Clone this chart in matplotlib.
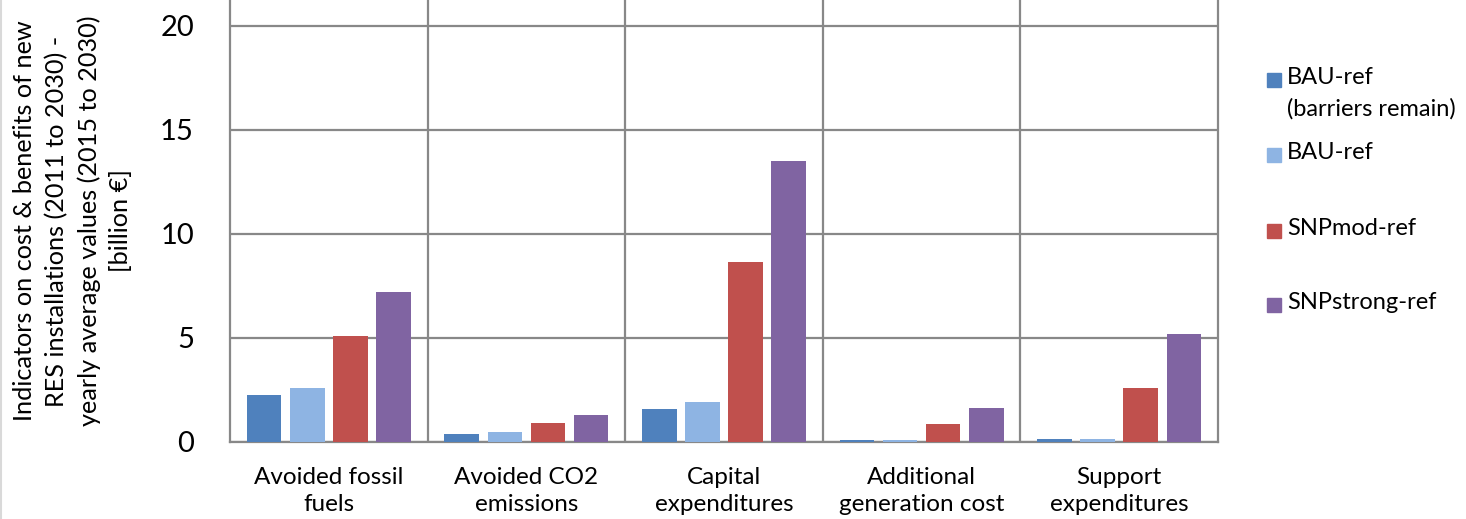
import numpy as np
import matplotlib
matplotlib.use("Agg")
import matplotlib.pyplot as plt
from matplotlib.patches import Rectangle
from matplotlib.lines import Line2D

plt.rcParams['font.family'] = ['Lato', 'DejaVu Sans']

# Indicators per scenario, billion EUR
categories = ["Avoided fossil\nfuels", "Avoided CO2\nemissions", "Capital\nexpenditures",
              "Additional\ngeneration cost", "Support\nexpenditures"]
series_names = ["BAU-ref\n(barriers remain)", "BAU-ref", "SNPmod-ref", "SNPstrong-ref"]
bau_barriers = [2.28, 0.40, 1.58, 0.09, 0.14]
bau_ref = [2.61, 0.46, 1.92, 0.09, 0.13]
snp_mod = [5.10, 0.90, 8.65, 0.86, 2.60]
snp_strong = [7.20, 1.30, 13.50, 1.63, 5.20]
series_values = [bau_barriers, bau_ref, snp_mod, snp_strong]
colors = ["#4F81BD", "#8EB4E3", "#C0504D", "#8064A2"]

grid_col = "#888888"

fig = plt.figure(figsize=(14.66, 5.19), dpi=100)
ax = fig.add_axes([230/1466, 1 - 442/519, 988/1466, 442/519])

x = np.arange(len(categories))
width = 0.175
step = 0.218
for i, (vals, col) in enumerate(zip(series_values, colors)):
    offs = (i - 1.5) * step
    ax.bar(x + offs, vals, width, color=col, linewidth=0, zorder=3)

ax.set_xlim(-0.5, len(categories) - 0.5)
ax.set_ylim(0, 21.25)
ax.set_yticks([0, 5, 10, 15, 20])
ax.tick_params(axis='y', length=0, labelsize=21, pad=26)
ax.set_xticks(x)
ax.set_xticklabels(categories, fontsize=17.5, linespacing=1.38)
ax.tick_params(axis='x', length=0, pad=18)

# horizontal gridlines and category separators
ax.yaxis.grid(True, color=grid_col, linewidth=1.6, zorder=0)
for b in np.arange(0.5, len(categories) - 0.5, 1.0):
    ax.axvline(b, color=grid_col, linewidth=1.6, zorder=0)
for side in ["left", "right", "bottom"]:
    ax.spines[side].set_color(grid_col)
    ax.spines[side].set_linewidth(1.6)
ax.spines["top"].set_visible(False)

ax.set_ylabel("Indicators on cost & benefits of new\nRES installations (2011 to 2030) -\n"
              "yearly average values (2015 to 2030)\n[billion €]",
              fontsize=18.2, linespacing=1.45, labelpad=20)

# legend on the right
leg_y = [80, 155, 231, 305]
for name, col, yy in zip(series_names, colors, leg_y):
    fig.patches.append(Rectangle((1267/1466, 1 - (yy + 7)/519), 14/1466, 14/519,
                                 transform=fig.transFigure, color=col))
    fig.text(1287/1466, 1 - (yy - 13)/519, name, fontsize=17, va="top", ha="left",
             linespacing=1.6)

# outer chart border
fig.add_artist(Line2D([1/1466, 1/1466], [0, 1], transform=fig.transFigure,
                      color="#d9d9d9", linewidth=1.5))

fig.savefig("out.png", dpi=100)
